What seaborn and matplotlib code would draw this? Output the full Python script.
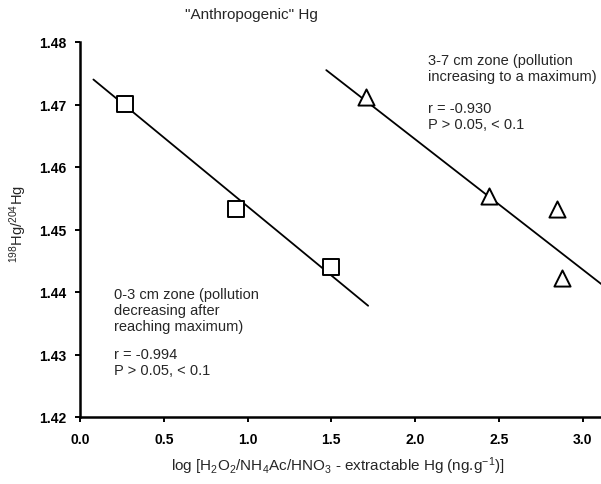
import matplotlib
matplotlib.use('Agg')
import matplotlib.pyplot as plt
import seaborn as sns
from matplotlib.ticker import FormatStrFormatter

sns.set_theme(style='ticks')
plt.rcParams['font.family'] = ['Liberation Sans', 'DejaVu Sans']
plt.rcParams['mathtext.default'] = 'regular'

# 0-3 cm zone (squares)
sq_x = [0.27, 0.93, 1.50]
sq_y = [1.4701, 1.4533, 1.4440]
# 3-7 cm zone (triangles)
tri_x = [1.71, 2.44, 2.85, 2.88]
tri_y = [1.4712, 1.4553, 1.4533, 1.4422]
# fitted lines (end points)
fit1_x = [0.08, 1.72]
fit1_y = [1.4740, 1.4378]
fit2_x = [1.47, 3.12]
fit2_y = [1.4755, 1.4411]

x_ticks = [0.0, 0.5, 1.0, 1.5, 2.0, 2.5, 3.0]
y_ticks = [1.42, 1.43, 1.44, 1.45, 1.46, 1.47, 1.48]

W, H = 601, 485
fig = plt.figure(figsize=(W / 100, H / 100), dpi=100)
ax = fig.add_axes([80 / W, 1 - 418 / H, 1 - 80 / W, (418 - 43) / H])

sns.lineplot(x=fit1_x, y=fit1_y, ax=ax, color='black', lw=1.3)
sns.lineplot(x=fit2_x, y=fit2_y, ax=ax, color='black', lw=1.3)
sns.scatterplot(x=sq_x, y=sq_y, ax=ax, marker='s', s=117, facecolor='white',
                edgecolor='black', linewidth=1.4, zorder=3)
sns.scatterplot(x=tri_x, y=tri_y, ax=ax, marker='^', s=135, facecolor='white',
                edgecolor='black', linewidth=1.4, zorder=3)

ax.set_xlim(0, 3.11)
ax.set_ylim(1.42, 1.48)
ax.set_xticks(x_ticks)
ax.set_yticks(y_ticks)
ax.xaxis.set_major_formatter(FormatStrFormatter('%.1f'))
ax.yaxis.set_major_formatter(FormatStrFormatter('%.2f'))
ax.set_facecolor('white')
for s in ['top', 'right']:
    ax.spines[s].set_visible(False)
for s in ['left', 'bottom']:
    ax.spines[s].set_linewidth(1.8)
    ax.spines[s].set_color('black')
ax.tick_params(axis='both', direction='out', length=3.6, width=1.4, colors='black',
               labelsize=10)
ax.tick_params(axis='x', pad=7)
ax.tick_params(axis='y', pad=6)
for lab in ax.get_xticklabels() + ax.get_yticklabels():
    lab.set_fontweight('bold')
ax.set_xlabel('')
ax.set_ylabel('')

def ftext(px, py, s, **kw):
    fig.text(px / W, 1 - py / H, s, **kw)

ftext(185, 15, '"Anthropogenic" Hg', ha='left', va='center', fontsize=11)
ftext(18, 224, r'$^{198}$Hg/$^{204}$Hg', rotation=90, ha='center', va='center', fontsize=10.5)
ftext(338, 466, r'log [H$_2$O$_2$/NH$_4$Ac/HNO$_3$ - extractable Hg (ng.g$^{-1}$)]',
      ha='center', va='center', fontsize=11)

ftext(428, 69, '3-7 cm zone (pollution\nincreasing to a maximum)', ha='left', va='center',
      fontsize=10.5, linespacing=1.15)
ftext(428, 117, 'r = -0.930\nP > 0.05, < 0.1', ha='left', va='center',
      fontsize=10.5, linespacing=1.15)
ftext(114, 311, '0-3 cm zone (pollution\ndecreasing after\nreaching maximum)', ha='left',
      va='center', fontsize=10.5, linespacing=1.15)
ftext(114, 363, 'r = -0.994\nP > 0.05, < 0.1', ha='left', va='center',
      fontsize=10.5, linespacing=1.15)

fig.savefig('out.png', dpi=100, facecolor='white')
